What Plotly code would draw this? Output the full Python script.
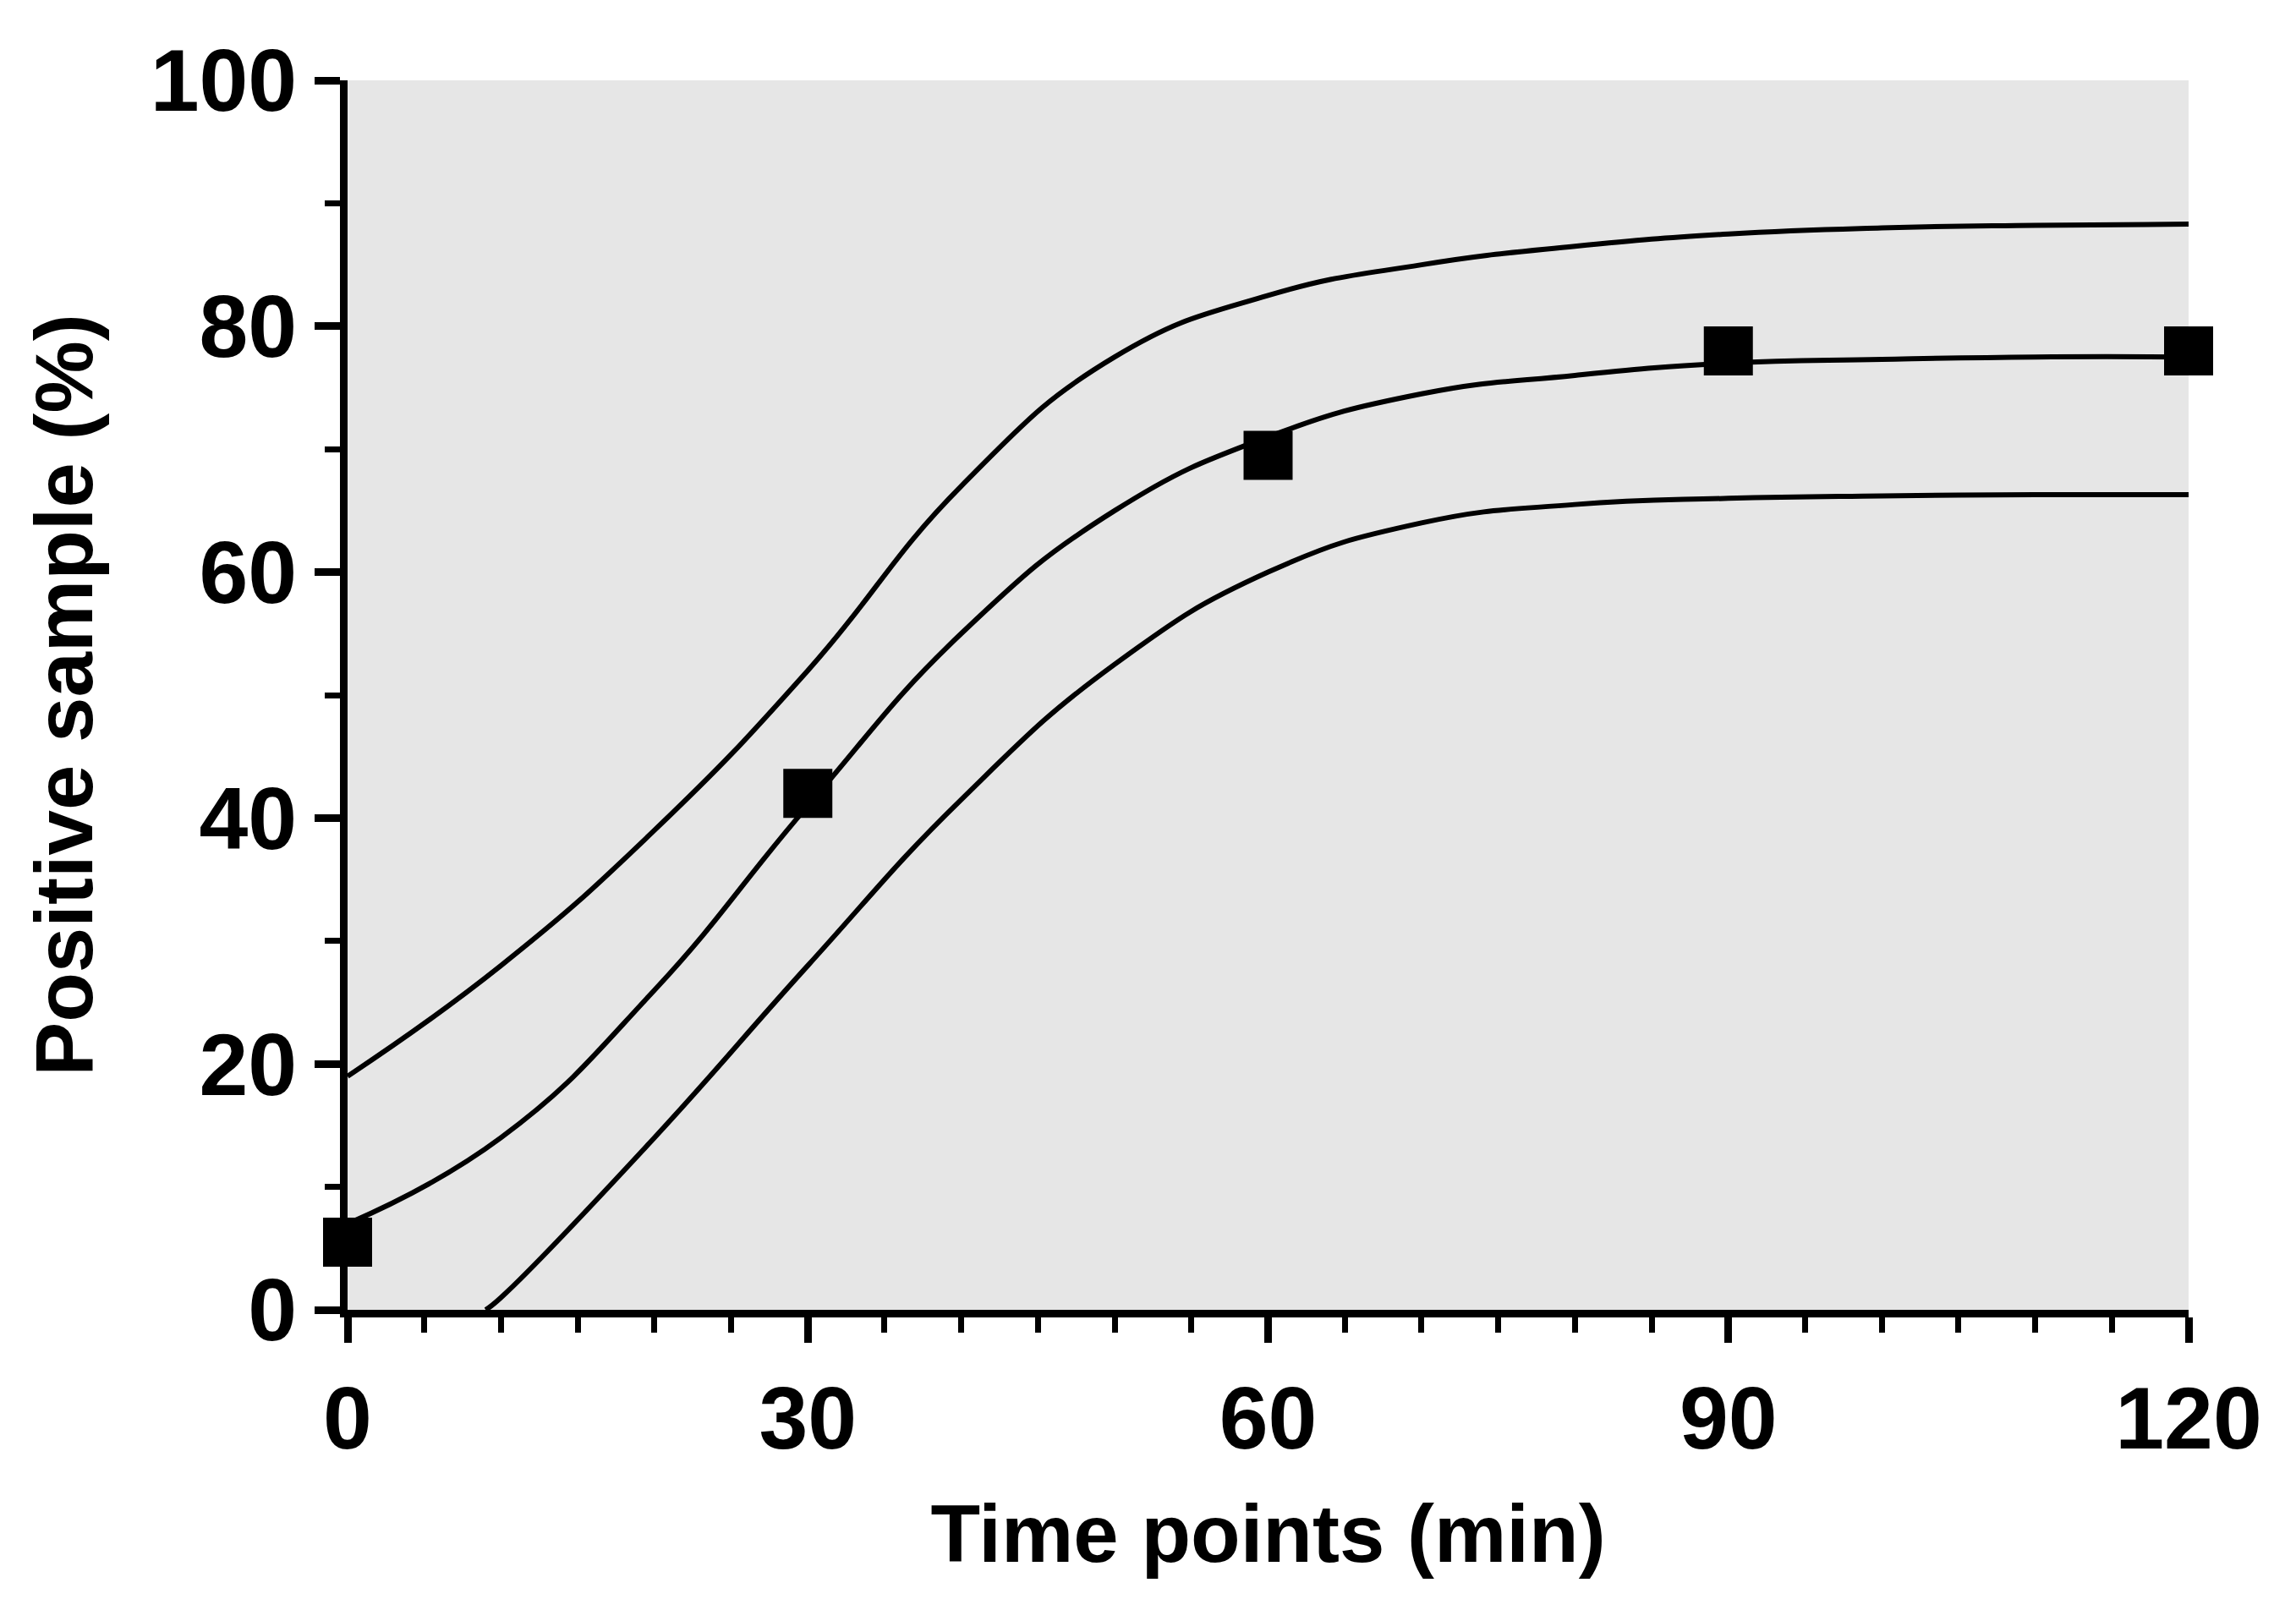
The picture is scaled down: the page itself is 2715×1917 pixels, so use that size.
import plotly.graph_objects as go

# measured points
t_pts = [0, 30, 60, 90, 120]
pos_pts = [5.5, 42, 69.5, 78, 78]

# fitted curve and confidence band
t_fit = [0, 10, 20, 30, 40, 50, 60, 70, 80, 90, 100, 110, 120]
mid_fit = [7, 14, 26, 41, 55, 65, 71, 74.5, 76, 77, 77.3, 77.5, 77.5]
upper_fit = [19, 28, 39, 52, 67, 77.5, 82.5, 85, 86.5, 87.5, 88, 88.2, 88.3]
t_low = [9, 10, 20, 30, 40, 50, 60, 70, 80, 90, 100, 110, 120]
lower_fit = [0, 1, 14, 28, 41.5, 52.5, 60, 64, 65.5, 66, 66.2, 66.3, 66.3]

fig = go.Figure()
line = dict(color="black", width=6, shape="spline", smoothing=1.3)
for x, y in [(t_fit, upper_fit), (t_fit, mid_fit), (t_low, lower_fit)]:
    fig.add_trace(go.Scatter(x=x, y=y, mode="lines", line=line, cliponaxis=False,
                             showlegend=False))
fig.add_trace(go.Scatter(x=t_pts, y=pos_pts, mode="markers", cliponaxis=False,
                         marker=dict(symbol="square", size=58, color="black"),
                         showlegend=False))

font = dict(family="Liberation Sans", size=104, color="black", weight="bold")
title_font = dict(family="Liberation Sans", size=96, color="black", weight="bold")
axis = dict(showgrid=False, zeroline=False, showline=True, linecolor="black",
            linewidth=9, ticks="outside", ticklen=30, tickwidth=9,
            tickcolor="black", tickfont=font)
fig.update_xaxes(**axis, range=[0, 120], tickvals=[0, 30, 60, 90, 120],
                 minor=dict(dtick=5, ticks="outside", ticklen=18, tickwidth=7,
                            tickcolor="black"),
                 title=dict(text="Time points (min)", font=title_font, standoff=50))
fig.update_yaxes(**axis, range=[0, 100], tickvals=[0, 20, 40, 60, 80, 100],
                 minor=dict(dtick=10, ticks="outside", ticklen=18, tickwidth=7,
                            tickcolor="black"),
                 title=dict(text="Positive sample (%)", font=title_font, standoff=40))
fig.update_layout(width=2715, height=1917, paper_bgcolor="white",
                  plot_bgcolor="#e6e6e6",
                  font=dict(family="Liberation Sans", color="black"),
                  margin=dict(l=403, r=135, t=87, b=376))
fig.write_html("out.html")
